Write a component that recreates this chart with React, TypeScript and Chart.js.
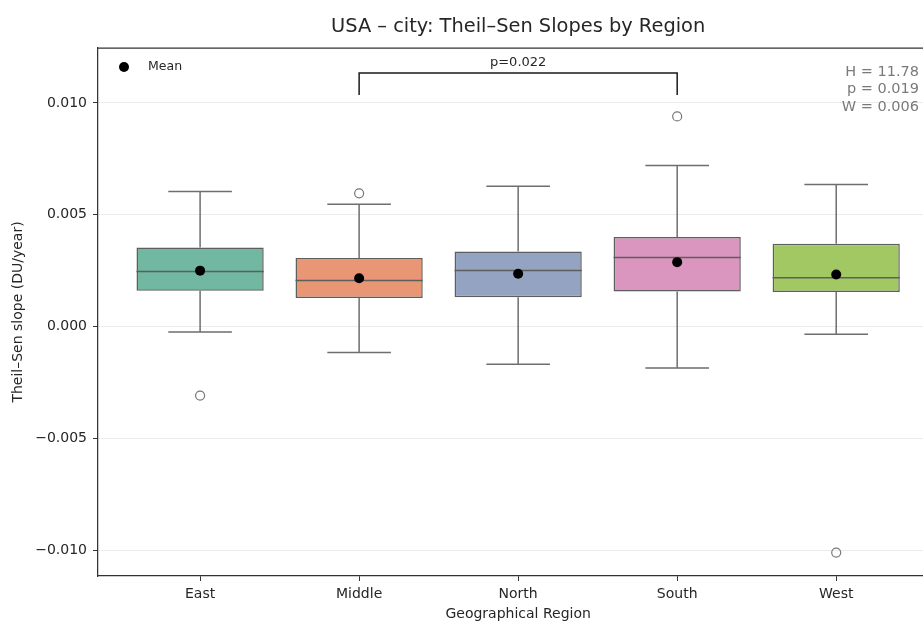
import React, { useEffect, useRef } from "react";
import { Chart, registerables } from "chart.js";

Chart.register(...registerables);

// ---- data ----
const regions = ["East", "Middle", "North", "South", "West"];
const boxColors = ["#71b7a1", "#e99675", "#95a3c3", "#db96c0", "#a2c864"];
const whiskerLow = [-0.00024, -0.00116, -0.00169, -0.00185, -0.00034];
const q1 = [0.0016, 0.00128, 0.00131, 0.00157, 0.00155];
const medians = [0.00246, 0.00206, 0.00251, 0.00309, 0.00218];
const q3 = [0.00353, 0.00307, 0.00336, 0.00401, 0.0037];
const whiskerHigh = [0.00604, 0.00547, 0.00628, 0.0072, 0.00635];
const means = [0.0025, 0.00216, 0.00236, 0.00288, 0.00233];
const outliers = [[-0.00309], [0.00596], [], [0.0094], [-0.01011]];
const yTicks = [-0.01, -0.005, 0, 0.005, 0.01];
const statLines = ["H = 11.78", "p = 0.019", "W = 0.006"];
const pairIdx = [1, 3];
const pairLabel = "p=0.022";
const bracketTop = 0.01134;
const bracketDrop = 0.01036;

const titleText = "USA \u2013 city: Theil\u2013Sen Slopes by Region";
const yTitle = "Theil\u2013Sen slope (DU/year)";
const xTitle = "Geographical Region";
const legendLabel = "Mean";

// ---- axis ranges / sizes ----
const X_MIN = -0.642;
const X_MAX = 4.642;
const Y_MIN = -0.01116;
const Y_MAX = 0.01246;
const CAP_HALF = 0.2;
const BOX_HALF = 0.4;

const FONT = '"DejaVu Sans", sans-serif';
const TEXT = "#262626";
const LINE = "#5e5e5e";
const WHISK = "#6e6e6e";

const gap = (i: number) => ({ x: i, y: null as number | null });

const boxData = regions.map((_, i) => ({ x: i, y: [q1[i], q3[i]] }));
const whiskerData = regions.flatMap((_, i) => [
  { x: i, y: q3[i] }, { x: i, y: whiskerHigh[i] }, gap(i),
  { x: i - CAP_HALF, y: whiskerHigh[i] }, { x: i + CAP_HALF, y: whiskerHigh[i] }, gap(i),
  { x: i, y: q1[i] }, { x: i, y: whiskerLow[i] }, gap(i),
  { x: i - CAP_HALF, y: whiskerLow[i] }, { x: i + CAP_HALF, y: whiskerLow[i] }, gap(i),
]);
const medianData = regions.flatMap((_, i) => [
  { x: i - BOX_HALF, y: medians[i] }, { x: i + BOX_HALF, y: medians[i] }, gap(i),
]);
const meanData = regions.map((_, i) => ({ x: i, y: means[i] }));
const outlierData = outliers.flatMap((vals, i) => vals.map((v) => ({ x: i, y: v })));

const decor = {
  id: "decor",
  afterDraw(chart: any) {
    const { ctx, chartArea: a, scales } = chart;
    const xs = scales.x;
    const ys = scales.y;
    ctx.save();
    // top / right spines
    ctx.strokeStyle = "#333";
    ctx.lineWidth = 1.25;
    ctx.beginPath();
    ctx.moveTo(a.left, a.top);
    ctx.lineTo(a.right, a.top);
    ctx.lineTo(a.right, a.bottom);
    ctx.stroke();

    // title
    ctx.fillStyle = TEXT;
    ctx.font = `19.4px ${FONT}`;
    ctx.textAlign = "center";
    ctx.textBaseline = "middle";
    ctx.fillText(titleText, (a.left + a.right) / 2, a.top - 21);

    // legend
    ctx.beginPath();
    ctx.arc(a.left + 26, a.top + 19, 5, 0, Math.PI * 2);
    ctx.fillStyle = "#000";
    ctx.fill();
    ctx.fillStyle = TEXT;
    ctx.font = `12.5px ${FONT}`;
    ctx.textAlign = "left";
    ctx.fillText(legendLabel, a.left + 50, a.top + 19);

    // significance bracket
    const bx1 = xs.getPixelForValue(pairIdx[0]);
    const bx2 = xs.getPixelForValue(pairIdx[1]);
    const byT = ys.getPixelForValue(bracketTop);
    const byB = ys.getPixelForValue(bracketDrop);
    ctx.strokeStyle = "#1a1a1a";
    ctx.lineWidth = 1.5;
    ctx.beginPath();
    ctx.moveTo(bx1, byB);
    ctx.lineTo(bx1, byT);
    ctx.lineTo(bx2, byT);
    ctx.lineTo(bx2, byB);
    ctx.stroke();
    ctx.fillStyle = TEXT;
    ctx.font = `13px ${FONT}`;
    ctx.textAlign = "center";
    ctx.textBaseline = "alphabetic";
    ctx.fillText(pairLabel, (bx1 + bx2) / 2, byT - 7);

    // stats box
    ctx.fillStyle = "#7a7a7a";
    ctx.font = `14.5px ${FONT}`;
    ctx.textAlign = "right";
    ctx.textBaseline = "middle";
    statLines.forEach((s, i) => {
      ctx.fillText(s, a.left + 0.977 * (a.right - a.left), a.top + 24 + i * 17.5);
    });
    ctx.restore();
  },
};

export default function App() {
  const ref = useRef<HTMLCanvasElement>(null);
  useEffect(() => {
    if (!ref.current) return;
    const chart = new Chart(ref.current, {
      type: "bar",
      data: {
        datasets: [
          {
            type: "bar",
            data: boxData as any,
            backgroundColor: boxColors,
            borderColor: LINE,
            borderWidth: 1.5,
            borderSkipped: false,
            barPercentage: 0.8,
            categoryPercentage: 1,
            order: 4,
          } as any,
          {
            type: "line",
            data: whiskerData as any,
            borderColor: WHISK,
            borderWidth: 1.5,
            pointRadius: 0,
            spanGaps: false,
            fill: false,
            order: 3,
          },
          {
            type: "line",
            data: medianData as any,
            borderColor: LINE,
            borderWidth: 1.5,
            pointRadius: 0,
            spanGaps: false,
            fill: false,
            order: 2,
          },
          {
            type: "scatter",
            data: outlierData as any,
            pointRadius: 4.5,
            pointBackgroundColor: "rgba(255,255,255,0)",
            pointBorderColor: "#767676",
            pointBorderWidth: 1.2,
            order: 1,
          },
          {
            type: "scatter",
            label: legendLabel,
            data: meanData as any,
            pointRadius: 5,
            pointBackgroundColor: "#000",
            pointBorderColor: "#000",
            pointBorderWidth: 0,
            order: 0,
          },
        ],
      },
      options: {
        animation: false,
        responsive: false,
        devicePixelRatio: 1,
        events: [],
        layout: { padding: { top: 48, right: 2, bottom: 0, left: 0 } },
        plugins: {
          legend: { display: false },
          tooltip: { enabled: false },
          title: { display: false },
        },
        scales: {
          x: {
            type: "linear",
            min: X_MIN,
            max: X_MAX,
            offset: false,
            afterBuildTicks: (s: any) => {
              s.ticks = regions.map((_, i) => ({ value: i }));
            },
            afterFit: (s: any) => {
              s.height = 45;
              s.paddingLeft = 0;
              s.paddingRight = 0;
            },
            ticks: {
              autoSkip: false,
              maxRotation: 0,
              padding: 5,
              color: TEXT,
              font: { family: FONT, size: 14 },
              callback: (v: any) => regions[Math.round(v)] ?? "",
            },
            grid: {
              offset: false,
              drawOnChartArea: false,
              drawTicks: true,
              tickLength: 5,
              tickColor: "#333",
              tickWidth: 1,
            },
            border: { display: true, color: "#333", width: 1.25 },
            title: {
              display: true,
              text: xTitle,
              color: TEXT,
              font: { family: FONT, size: 14, lineHeight: 1.0 },
              padding: { top: 0, bottom: 0 },
            },
          } as any,
          y: {
            type: "linear",
            min: Y_MIN,
            max: Y_MAX,
            afterBuildTicks: (s: any) => {
              s.ticks = yTicks.map((v) => ({ value: v }));
            },
            afterFit: (s: any) => {
              s.width = 98;
              s.paddingTop = 0;
              s.paddingBottom = 0;
            },
            ticks: {
              padding: 6,
              color: TEXT,
              font: { family: FONT, size: 14 },
              callback: (v: any) => Number(v).toFixed(3).replace("-", "\u2212"),
            },
            grid: {
              color: "#ebebeb",
              lineWidth: 1,
              drawTicks: true,
              tickLength: 5,
              tickColor: "#333",
              tickWidth: 1,
            },
            border: { display: true, color: "#333", width: 1.25 },
            title: {
              display: true,
              text: yTitle,
              color: TEXT,
              font: { family: FONT, size: 14 },
              padding: { top: 10, bottom: 0 },
            },
          } as any,
        },
      },
      plugins: [decor],
    });
    return () => chart.destroy();
  }, []);

  return (
    <div
      style={{
        position: "fixed",
        left: 0,
        top: 0,
        width: 923,
        height: 621,
        overflow: "hidden",
        background: "#fff",
      }}
    >
      <canvas ref={ref} width={944} height={621} style={{ display: "block", width: 944, height: 621 }} />
    </div>
  );
}
